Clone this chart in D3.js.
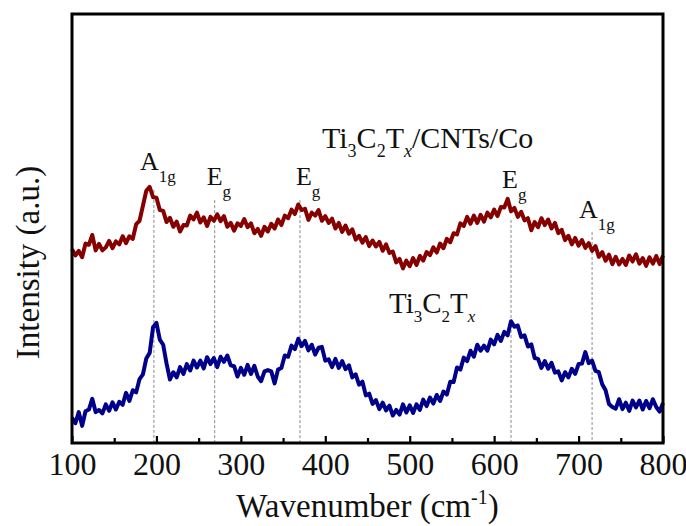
<!DOCTYPE html>
<html>
<head>
<meta charset="utf-8">
<script src="https://cdn.jsdelivr.net/npm/d3@7/dist/d3.min.js"></script>
<style>
  body { margin: 0; background: #fff; }
</style>
</head>
<body>
<div id="chart"></div>
<script>
// spectra sampled every 4 cm-1 from 100 to 800 (arbitrary intensity units)
const waveStart = 100;
const waveStep = 4;

// Ti3C2Tx/CNTs/Co (upper, dark red)
const compositeIntensity = [
  45.2, 43.7, 44.8, 43.3, 46.5, 46.2, 48.5, 44.9, 46.4, 44.9,
  45.6, 47.1, 45.4, 47.0, 46.3, 48.2, 46.6, 48.2, 47.6, 51.0,
  51.8, 55.3, 58.8, 59.7, 57.3, 57.2, 54.3, 54.1, 51.5, 52.5,
  50.4, 51.6, 49.3, 50.8, 50.7, 53.0, 52.1, 53.7, 51.4, 52.6,
  50.6, 52.7, 51.8, 53.3, 51.7, 52.9, 50.4, 51.3, 49.5, 51.2,
  50.6, 52.2, 50.3, 51.2, 48.9, 49.9, 48.3, 50.4, 49.3, 51.1,
  50.0, 52.1, 50.8, 53.0, 52.4, 54.4, 53.4, 55.6, 54.3, 54.6,
  52.0, 53.7, 53.0, 54.3, 51.8, 52.9, 51.3, 52.3, 50.0, 51.3,
  49.2, 50.7, 48.8, 49.8, 47.4, 48.3, 46.7, 48.0, 45.9, 47.2,
  45.8, 46.9, 44.8, 46.3, 44.3, 44.6, 42.1, 42.9, 40.7, 42.5,
  41.2, 43.1, 41.5, 43.6, 42.5, 44.5, 43.8, 45.6, 44.4, 46.5,
  45.4, 47.6, 46.8, 48.9, 48.6, 51.2, 50.6, 52.7, 51.1, 53.0,
  51.3, 53.2, 51.6, 53.7, 52.6, 54.4, 52.9, 55.0, 54.9, 56.9,
  54.0, 54.8, 52.7, 53.9, 51.9, 52.4, 49.6, 51.5, 50.3, 52.4,
  50.8, 52.1, 50.0, 51.3, 48.9, 49.7, 47.3, 48.3, 46.3, 47.8,
  46.0, 47.3, 45.5, 46.6, 44.8, 45.9, 43.4, 44.5, 42.5, 43.9,
  41.7, 43.4, 41.6, 42.9, 41.5, 43.7, 42.3, 44.0, 41.8, 43.1,
  41.3, 43.3, 41.8, 43.6, 41.7, 43.7
];

// Ti3C2Tx (lower, navy)
const pristineIntensity = [
  5.9, 4.6, 7.2, 4.0, 7.4, 7.8, 10.3, 7.2, 7.7, 6.9,
  9.0, 7.5, 9.5, 7.8, 9.6, 8.9, 11.7, 9.8, 12.3, 11.8,
  14.9, 16.0, 19.7, 21.0, 27.0, 28.0, 24.1, 22.9, 18.5, 14.8,
  16.5, 15.3, 17.7, 16.1, 18.4, 16.9, 19.2, 17.6, 19.2, 17.4,
  20.0, 18.4, 19.8, 17.7, 20.1, 18.9, 20.4, 18.1, 17.9, 15.5,
  17.5, 15.9, 18.2, 16.1, 18.0, 15.5, 14.4, 16.7, 17.0, 16.7,
  13.9, 17.1, 17.5, 20.4, 20.1, 22.7, 21.9, 24.3, 22.6, 23.8,
  21.6, 22.9, 20.6, 22.2, 22.4, 19.2, 19.5, 17.7, 19.6, 17.5,
  19.1, 17.2, 18.1, 15.3, 16.0, 13.6, 14.3, 11.1, 11.5, 9.1,
  10.0, 7.9, 9.4, 7.6, 8.7, 6.4, 7.7, 6.6, 9.0, 7.1,
  8.8, 7.0, 9.0, 7.7, 10.1, 8.6, 10.6, 9.2, 11.2, 9.8,
  12.0, 11.3, 14.3, 14.2, 17.6, 17.1, 19.9, 19.1, 21.5, 20.1,
  22.9, 21.5, 22.7, 21.5, 24.1, 23.0, 25.2, 23.8, 25.9, 25.1,
  28.4, 27.1, 27.4, 24.7, 25.1, 22.5, 23.0, 19.8, 19.6, 17.5,
  19.1, 17.3, 18.7, 16.4, 16.7, 14.6, 16.5, 15.3, 17.3, 16.1,
  18.4, 18.5, 21.2, 18.6, 19.2, 16.8, 16.5, 13.7, 12.3, 9.1,
  8.4, 8.0, 10.2, 7.9, 9.4, 7.5, 9.9, 8.3, 9.9, 7.8,
  9.8, 8.1, 10.2, 8.4, 7.3, 9.3
];

// Raman mode markers
const modeWave = [197, 269, 370, 620, 716];
const modeName = ["A", "E", "E", "E", "A"];
const modeSub = ["1g", "g", "g", "g", "1g"];
const modeTop = [59.0, 56.6, 56.6, 52.0, 49.2];

const majorTicks = [100, 200, 300, 400, 500, 600, 700, 800];
const minorTicks = [150, 250, 350, 450, 550, 650, 750];

// label layout (pixels)
const modeLabelDx = [-14, -8, -4, -9, -13];
const modeLabelY = [170, 185, 185, 188, 218];

const serif = "'Liberation Serif', 'Times New Roman', Tinos, 'DejaVu Serif', serif";
const width = 686, height = 526;
const plot = { left: 72, right: 663, top: 14, bottom: 443 };

const svg = d3.select("#chart").append("svg")
  .attr("width", width)
  .attr("height", height)
  .attr("font-family", serif)
  .style("display", "block");

const x = d3.scaleLinear().domain([100, 800]).range([plot.left, plot.right]);
const y = d3.scaleLinear().domain([0, 100]).range([plot.bottom, plot.top]);

const toPoints = (arr) => arr.map((v, i) => [waveStart + i * waveStep, v]);

const line = d3.line()
  .x((d) => x(d[0]))
  .y((d) => y(d[1]));

// text with sub/superscripts
function richText(sel, px, py, parts, size, smallSize) {
  const t = sel.append("text")
    .attr("x", px)
    .attr("y", py)
    .attr("font-family", serif)
    .attr("font-size", size)
    .attr("fill", "#111");
  let shift = 0;
  parts.forEach((p) => {
    const target = p.sub ? p.sub : p.sup ? -p.sup : 0;
    t.append("tspan")
      .attr("dy", target - shift)
      .attr("font-size", p.sub || p.sup ? smallSize : size)
      .attr("font-style", p.it ? "italic" : null)
      .text(p.t);
    shift = target;
  });
  return t;
}

// dashed mode lines
svg.append("g")
  .selectAll("line")
  .data(modeWave)
  .join("line")
  .attr("x1", (d) => x(d))
  .attr("x2", (d) => x(d))
  .attr("y1", (d, i) => y(modeTop[i]))
  .attr("y2", plot.bottom)
  .attr("stroke", "#8a8a8a")
  .attr("stroke-width", 1)
  .attr("stroke-dasharray", "3,2");

// spectra
svg.append("path")
  .datum(toPoints(compositeIntensity))
  .attr("d", line)
  .attr("fill", "none")
  .attr("stroke", "#870000")
  .attr("stroke-width", 4)
  .attr("stroke-linejoin", "round");

svg.append("path")
  .datum(toPoints(pristineIntensity))
  .attr("d", line)
  .attr("fill", "none")
  .attr("stroke", "#00008a")
  .attr("stroke-width", 4)
  .attr("stroke-linejoin", "round");

// x axis (inward ticks)
const xAxis = svg.append("g")
  .attr("transform", `translate(0,${plot.bottom})`)
  .call(d3.axisBottom(x).tickValues(majorTicks).tickSize(-7).tickPadding(9));
xAxis.select(".domain").remove();
xAxis.attr("font-family", serif).attr("font-size", 32);
xAxis.selectAll("line").attr("stroke-width", 2.2);
xAxis.selectAll("text").attr("fill", "#111");

const xMinor = svg.append("g")
  .attr("transform", `translate(0,${plot.bottom})`)
  .call(d3.axisBottom(x).tickValues(minorTicks).tickSize(-5).tickFormat(""));
xMinor.select(".domain").remove();
xMinor.selectAll("line").attr("stroke-width", 2.2);

// frame
svg.append("rect")
  .attr("x", plot.left)
  .attr("y", plot.top)
  .attr("width", plot.right - plot.left)
  .attr("height", plot.bottom - plot.top)
  .attr("fill", "none")
  .attr("stroke", "#000")
  .attr("stroke-width", 3);

// mode labels
modeWave.forEach((w, i) => {
  richText(svg, x(w) + modeLabelDx[i], modeLabelY[i],
    [{ t: modeName[i] }, { t: modeSub[i], sub: 12 }], 26, 17);
});

// sample labels
richText(svg, 322, 148, [
  { t: "Ti" }, { t: "3", sub: 9 }, { t: "C" }, { t: "2", sub: 9 },
  { t: "T" }, { t: "x", sub: 9, it: true }, { t: "/CNTs/Co" }
], 30, 18);

richText(svg, 389, 313, [
  { t: "Ti" }, { t: "3", sub: 9 }, { t: "C" }, { t: "2", sub: 9 },
  { t: "T" }, { t: "x", sub: 9, it: true }
], 29, 17);

// axis titles
const xTitle = richText(svg, (plot.left + plot.right) / 2, 517, [
  { t: "Wavenumber (cm" }, { t: "-1", sup: 13 }, { t: ")" }
], 33, 20);
xTitle.attr("text-anchor", "middle");

svg.append("text")
  .attr("transform", `translate(39,${(plot.top + plot.bottom) / 2 + 34}) rotate(-90)`)
  .attr("text-anchor", "middle")
  .attr("font-family", serif)
  .attr("font-size", 33)
  .attr("fill", "#111")
  .text("Intensity (a.u.)");
</script>
</body>
</html>
